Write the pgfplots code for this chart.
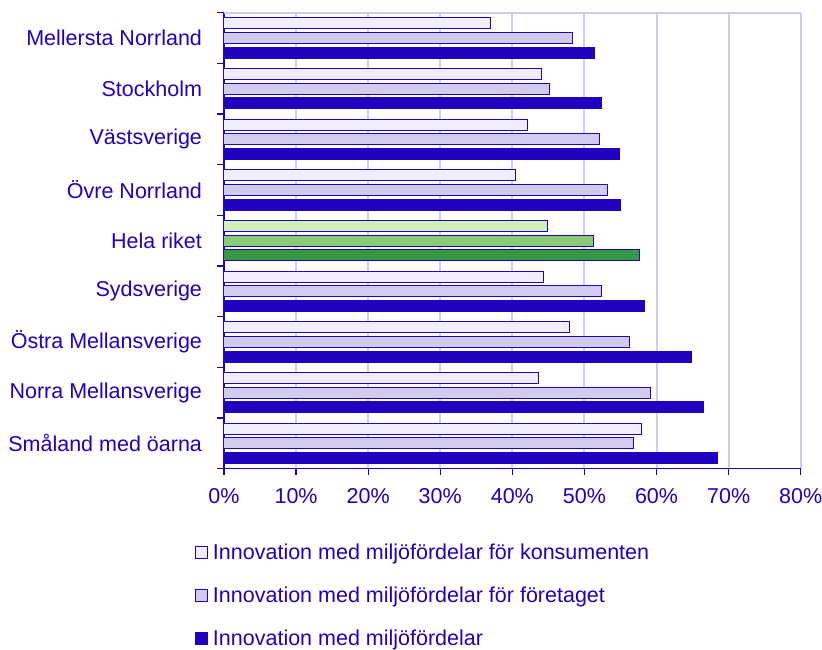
\documentclass[border=0pt]{standalone}
\usepackage{fontspec}
\setmainfont{Liberation Sans}
\usepackage{pgfplots}
\pgfplotsset{compat=1.18}
\definecolor{dblue}{HTML}{2200C0}
\definecolor{lblue}{HTML}{EEEEFF}
\definecolor{mblue}{HTML}{D0CCF0}
\definecolor{gridc}{HTML}{CDCDEE}
\definecolor{lgreen}{HTML}{D0F0B8}
\definecolor{mgreen}{HTML}{88CC77}
\definecolor{dgreen}{HTML}{339944}
\begin{document}
\begin{tikzpicture}[font=\fontsize{21.5}{25}\selectfont, text=dblue]
\useasboundingbox (-224pt,-180.3pt) rectangle (598pt,468.7pt);
\begin{axis}[
  at={(0pt,0pt)}, anchor=south west,
  width=576.7pt, height=456pt, scale only axis,
  xmin=0, xmax=80, ymin=-0.5, ymax=8.5,
  clip=false,
  xbar, bar width=11pt,
  axis x line*=bottom, axis y line*=left,
  axis line style={dblue, line width=1.3pt},
  tick style={dblue, line width=1.3pt},
  tick align=outside, major tick length=6.5pt,
  xtick={0,10,...,80},
  xticklabels={0\%,10\%,20\%,30\%,40\%,50\%,60\%,70\%,80\%},
  xmajorgrids, major grid style={gridc, line width=2pt},
  ytick={-0.5,0.5,...,8.5}, yticklabel=\empty,
  extra y ticks={0,1,2,3,4,5,6,7,8},
  extra y tick labels={Småland med öarna, Norra Mellansverige, Östra Mellansverige, Sydsverige, Hela riket, Övre Norrland, Västsverige, Stockholm\ , Mellersta Norrland},
  extra y tick style={tick style={draw=none}, grid=none},
  yticklabel style={xshift=-12pt, text=dblue},
  xticklabel style={text=dblue, yshift=-10pt},
  legend style={at={(-0.055,-0.155)}, anchor=north west, draw=none, fill=none,
    font=\fontsize{21.5}{25}\selectfont, text=dblue, row sep=22pt},
  legend cell align=left,
  legend image code/.code={\draw[#1] (0pt,-6pt) rectangle (12pt,6pt); \path[draw=none,fill=none] (15pt,0pt);},
]
\addplot[draw=dblue, fill=lblue, line width=1pt, bar shift=14.7pt] coordinates {
 (57.9,0) (43.6,1) (47.9,2) (44.3,3) (40.4,5) (42.1,6) (44.0,7) (36.9,8)};
\addplot[draw=dblue, fill=mblue, line width=1pt, bar shift=0pt] coordinates {
 (56.8,0) (59.1,1) (56.3,2) (52.3,3) (53.2,5) (52.1,6) (45.1,7) (48.4,8)};
\addplot[draw=dblue, fill=dblue, line width=1pt, bar shift=-14.7pt] coordinates {
 (68.5,0) (66.5,1) (64.8,2) (58.4,3) (55.0,5) (54.9,6) (52.3,7) (51.4,8)};
\addplot[forget plot, draw=dblue, fill=lgreen, line width=1pt, bar shift=14.7pt] coordinates {(44.9,4)};
\addplot[forget plot, draw=dblue, fill=mgreen, line width=1pt, bar shift=0pt] coordinates {(51.3,4)};
\addplot[forget plot, draw=dblue, fill=dgreen, line width=1pt, bar shift=-14.7pt] coordinates {(57.7,4)};
\legend{Innovation med miljöfördelar för konsumenten, Innovation med miljöfördelar för företaget, Innovation med miljöfördelar}
\draw[gridc, line width=2pt] (rel axis cs:0,1) -- (rel axis cs:1,1);
\end{axis}
\end{tikzpicture}
\end{document}
